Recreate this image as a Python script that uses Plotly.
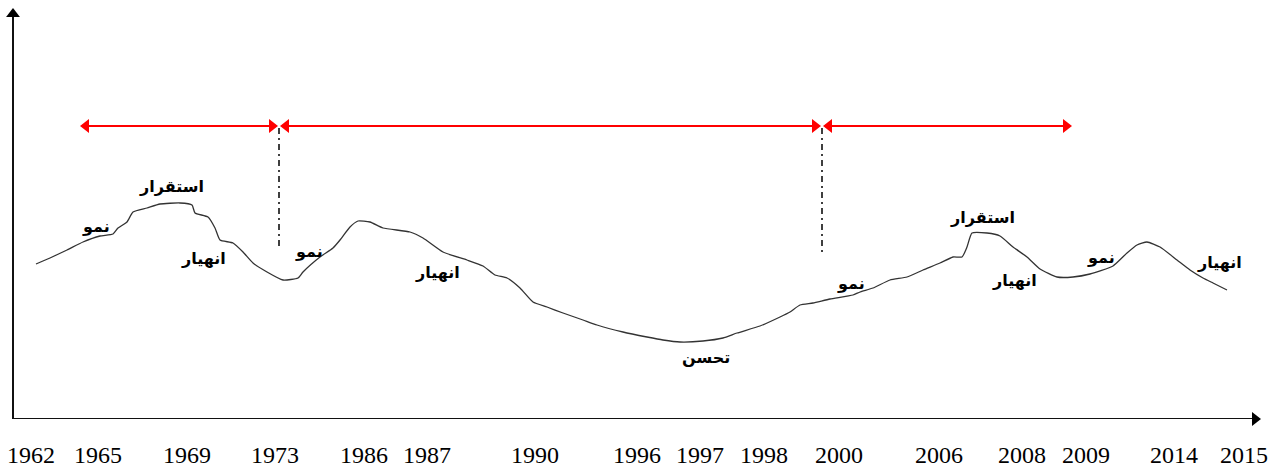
import plotly.graph_objects as go

# ---- data (positions along the time line and relative level of the economy) ----
tick_labels = ["1962", "1965", "1969", "1973", "1986", "1987", "1990", "1996",
               "1997", "1998", "2000", "2006", "2008", "2009", "2014", "2015"]
tick_pos = [31, 98, 187, 275, 364, 427, 535, 637, 700, 764, 839, 939, 1022, 1086, 1174, 1244]

curve_x = [36, 50, 67, 83, 100, 113, 118, 127, 133, 147, 160, 180, 192, 195, 208, 215, 220,
           233, 243, 253, 267, 283, 298, 303, 320, 333,
           340, 350, 358, 370, 383, 410, 423, 443, 467, 483, 495, 507, 520, 533, 547, 563,
           583, 597, 623, 647, 663, 680, 703, 723, 737, 760, 780,
           790, 800, 813, 830, 853, 860, 873, 890, 907, 923, 940, 953, 962, 967, 972, 987,
           1000, 1013, 1027, 1040, 1057, 1073, 1090, 1113, 1127, 1137, 1147, 1160, 1177,
           1190, 1203, 1213, 1227]
curve_level = [155, 161, 169, 177, 183, 185, 191, 197, 207, 211, 215, 216, 214, 206, 202, 191, 179,
               176, 167, 156, 147, 139, 141, 147, 162, 171,
               179, 192, 198, 197, 191, 187, 181, 167, 159, 153, 144, 141, 131, 117, 112, 106,
               99, 94, 87, 82, 79, 77, 78, 81, 86, 93, 102,
               107, 114, 116, 120, 124, 127, 131, 139, 142, 149, 156, 162, 162, 172, 186, 186,
               183, 172, 162, 150, 142, 142, 145, 153, 166, 174, 177, 172, 159,
               149, 141, 136, 129]

phase_text = ["نمو", "استقرار", "انهيار", "نمو", "انهيار", "تحسن",
              "نمو", "استقرار", "انهيار", "نمو", "انهيار"]
phase_x = [96, 171, 203, 309, 437, 706, 851, 982, 1014, 1101, 1219]
phase_level = [193, 233, 161, 168, 147, 62, 136, 202, 139, 162, 157]

period_bounds = [79, 279, 822, 1073]
period_level = 293
divider_x = [279, 822]
divider_top = [291, 291]
divider_bottom = [171, 165]

axis_origin = (13, 0)
x_axis_end = 1262
y_axis_end = 412

# ---- figure ----
fig = go.Figure()
HEAD = 7  # distance from marker centre to triangle tip (px)
NOCLIP = dict(hoverinfo="skip", cliponaxis=False)

# axes with arrow heads
fig.add_trace(go.Scatter(x=[axis_origin[0], x_axis_end - HEAD], y=[0, 0], mode="lines",
                         line=dict(color="#111", width=2), **NOCLIP))
fig.add_trace(go.Scatter(x=[axis_origin[0], axis_origin[0]], y=[0, y_axis_end - HEAD], mode="lines",
                         line=dict(color="#111", width=2), **NOCLIP))
fig.add_trace(go.Scatter(x=[x_axis_end - HEAD], y=[0], mode="markers",
                         marker=dict(symbol="triangle-right", size=12, color="black"), **NOCLIP))
fig.add_trace(go.Scatter(x=[axis_origin[0]], y=[y_axis_end - HEAD], mode="markers",
                         marker=dict(symbol="triangle-up", size=12, color="black"), **NOCLIP))

# red period arrows
for a, b in zip(period_bounds[:-1], period_bounds[1:]):
    fig.add_trace(go.Scatter(x=[a + HEAD, b - HEAD], y=[period_level, period_level], mode="lines",
                             line=dict(color="red", width=2), **NOCLIP))
    fig.add_trace(go.Scatter(x=[a + HEAD], y=[period_level], mode="markers",
                             marker=dict(symbol="triangle-left", size=12, color="red"), **NOCLIP))
    fig.add_trace(go.Scatter(x=[b - HEAD], y=[period_level], mode="markers",
                             marker=dict(symbol="triangle-right", size=12, color="red"), **NOCLIP))

# dash-dot dividers
for dx, top, bot in zip(divider_x, divider_top, divider_bottom):
    fig.add_trace(go.Scatter(x=[dx, dx], y=[top, bot], mode="lines",
                             line=dict(color="black", width=1.5, dash="6px,4px,2px,4px"),
                             **NOCLIP))

# economic cycle curve
fig.add_trace(go.Scatter(x=curve_x, y=curve_level, mode="lines",
                         line=dict(color="#333", width=1.3, shape="spline", smoothing=0.5),
                         **NOCLIP))

# phase labels
for t, px, py in zip(phase_text, phase_x, phase_level):
    fig.add_annotation(x=px, y=py, text="<b>" + t + "</b>", showarrow=False,
                       font=dict(family="DejaVu Sans", size=16, color="black"),
                       xanchor="center", yanchor="middle")

fig.update_layout(
    width=1273, height=468,
    margin=dict(l=0, r=0, t=0, b=49),
    paper_bgcolor="white", plot_bgcolor="white",
    showlegend=False,
    xaxis=dict(range=[0, 1273], showgrid=False, zeroline=False, showline=False,
               automargin=False,
               tickmode="array", tickvals=tick_pos, ticktext=tick_labels,
               ticks="outside", ticklen=14, tickcolor="rgba(0,0,0,0)",
               tickfont=dict(family="Liberation Serif", size=24, color="black"),
               fixedrange=True),
    yaxis=dict(range=[0, 419], visible=False, fixedrange=True, automargin=False),
)

fig.write_html("out.html", config={"displayModeBar": False},
               post_script="document.body.style.margin='0';document.body.style.overflow='hidden';")
